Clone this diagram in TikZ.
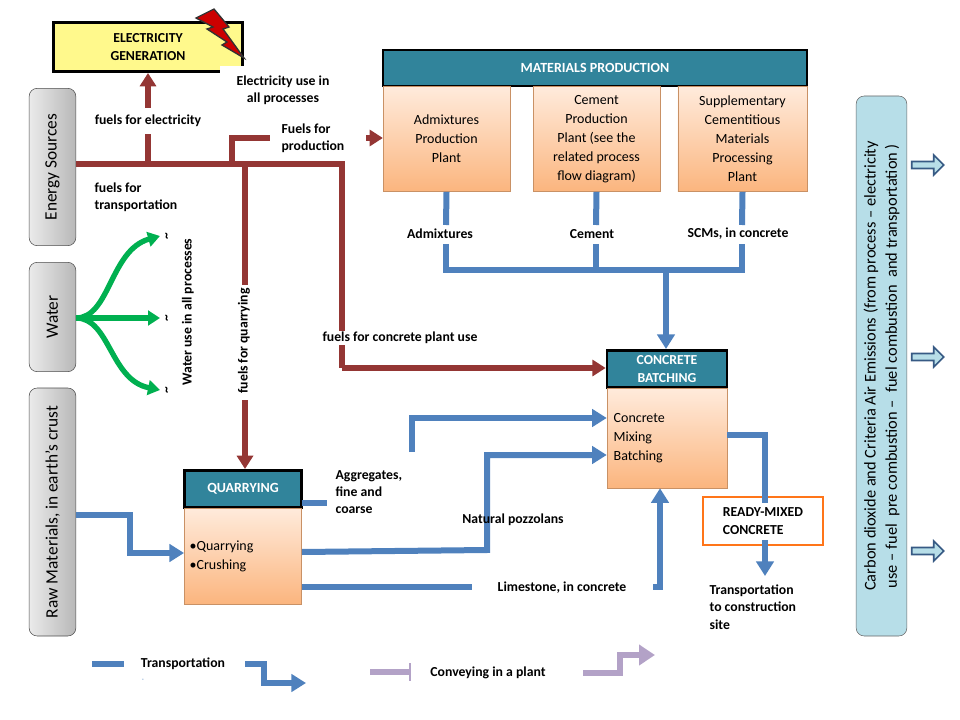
\documentclass[tikz,border=0pt]{standalone}
\usepackage{fontspec}
\setmainfont{Carlito}
\usetikzlibrary{arrows.meta,shapes.arrows}
\definecolor{brn}{HTML}{943634}
\definecolor{blu}{HTML}{4F81BD}
\definecolor{teal}{HTML}{31849B}
\definecolor{grn}{HTML}{00B050}
\definecolor{pur}{HTML}{B3A2C7}
\definecolor{lblu}{HTML}{B7DEE8}
\definecolor{orT}{HTML}{FFEBDC}
\definecolor{orB}{HTML}{FBB57E}
\begin{document}
\begin{tikzpicture}[x=0.75pt,y=-0.75pt,
 lbl/.style={font=\fontsize{10.3}{13}\selectfont\bfseries,align=center,inner sep=1pt},
 lbll/.style={lbl,align=left},
 bl/.style={blu,line width=4.5pt},
 br/.style={brn,line width=4.5pt},
 bla/.style={bl,-{Triangle[length=11pt,width=13pt]}},
 bra/.style={br,-{Triangle[length=10pt,width=12pt]}},
 hdr/.style={draw=black,line width=2pt,fill=teal,text=white,font=\fontsize{10.5}{12}\selectfont\bfseries,align=center},
 org/.style={draw=orB!80!black,top color=orT,bottom color=orB,font=\fontsize{10.5}{14.3}\selectfont,align=center},
 src/.style={draw=black!70,rounded corners=6pt,left color=black!8,right color=black!28},
 srct/.style={rotate=90,font=\fontsize{13}{15}\selectfont},
]
\useasboundingbox (0,0) rectangle (960,720);
% electricity
\node[draw=black,line width=2pt,fill=yellow!45,minimum width=142pt,minimum height=37pt,font=\fontsize{10.3}{13.5}\selectfont\bfseries,align=center] (eg) at (148,47) {ELECTRICITY\\GENERATION};
\fill[white] (220,66) rectangle (250,76);
\filldraw[fill=red!80!black,draw=black!80,line width=1pt] (196,18)--(214,9)--(229,27)--(223,29)--(244,58)--(222,45)--(227,42)--(207,29)--(213,27)--cycle;
\node[lbl] (eu) at (283,90) {Electricity use in\\all processes};
% sources
\node[src,minimum width=35pt,minimum height=118pt] (es) at (52.5,167) {};
\node[srct] at (es) {Energy Sources};
\node[src,minimum width=35pt,minimum height=82pt] (wa) at (52.5,317) {};
\node[srct] at (wa) {Water};
\node[src,minimum width=35pt,minimum height=186pt] (rm) at (52.5,512) {};
\node[srct] at (rm) {Raw Materials, in earth’s crust};
% materials production
\node[hdr,minimum width=318pt,minimum height=27pt] (mp) at (595,68) {MATERIALS PRODUCTION};
\node[org,minimum width=95pt,minimum height=79pt] (ad) at (446.5,139) {Admixtures\\Production\\Plant};
\node[org,minimum width=95pt,minimum height=79pt] (ce) at (596.5,139) {Cement\\Production\\Plant (see the\\related process\\flow diagram)};
\node[org,minimum width=97pt,minimum height=79pt] (sc) at (742.5,139) {Supplementary\\Cementitious\\Materials\\Processing\\Plant};
% concrete batching
\node[hdr,minimum width=90pt,minimum height=28pt,font=\fontsize{10.3}{13.5}\selectfont\bfseries] (cb) at (667,369) {CONCRETE\\BATCHING};
\node[org,minimum width=90pt,minimum height=75pt,align=left,text width=80pt] (cm) at (667,438) {Concrete\\Mixing\\Batching};
% quarrying
\node[hdr,minimum width=88pt,minimum height=28pt] (qh) at (243,489) {QUARRYING};
\node[org,minimum width=88pt,minimum height=72pt,align=left,text width=80pt] (qb) at (243,556) {•Quarrying\\•Crushing};
% ready mixed
\node[draw=orange!80!red!90,line width=1.2pt,fill=white,minimum width=90pt,minimum height=36pt,font=\fontsize{10.3}{13.5}\selectfont\bfseries,align=left] (rmc) at (763,521) {READY-MIXED\\CONCRETE};
% emissions
\node[draw=black!60,rounded corners=6pt,fill=lblu,minimum width=38pt,minimum height=405pt] (em) at (881.5,366) {};
\node[rotate=90,font=\fontsize{12.3}{16}\selectfont,align=center] at (em) {Carbon dioxide and Criteria Air Emissions (from process -- electricity\\use -- fuel\ \ pre combustion --\ \ fuel combustion\ \ and transportation )};
\foreach \yy/\nm in {165/e1,357/e2,551/e3}
  \node[single arrow,draw=blu!70!black,fill=lblu,line width=1.2pt,minimum height=24pt,minimum width=15pt,single arrow head extend=3pt,inner sep=1pt] (\nm) at (926,\yy) {};
% brown fuel lines
\coordinate (j1) at (148,164); \coordinate (j2) at (232,164);
\draw[br] (es.east|-j1) -- (342,164) -- (342,368);
\draw[bra] (342,368) -- (cb.west|-0,368);
\draw[br] (j1) -- (148,134);
\draw[bra] (148,108) -- (eg.south-|148,0);
\node[lbl] at (148,121) {fuels for electricity};
\draw[br] (232,164) -- (232,138) -- (270,138);
\node[lbll,anchor=west] (fp) at (280,138) {Fuels for\\production};
\draw[bra] (366,138) -- (ad.west|-0,138);
\draw[br] (245,164) -- (245,285);
\node[lbl,rotate=90,fill=white] at (244,341) {fuels for quarrying};
\draw[bra] (245,400) -- (qh.north-|245,0);
\node[lbll,anchor=west] at (93,197) {fuels for\\transportation};
\node[lbl,fill=white] at (400,338) {fuels for concrete plant use};
% water
\coordinate (w0) at (76,318);
\foreach \yy/\nm in {236/g1,318/g2,390/g3}{
  \coordinate (\nm) at (160,\yy);
  \node[font=\bfseries,rotate=90] at (168,\yy) {\textasciitilde};}
\draw[grn,line width=4pt,-{Triangle[length=9pt,width=11pt]}] (w0) .. controls (110,318) and (110,250) .. (g1);
\draw[grn,line width=4pt,-{Triangle[length=9pt,width=11pt]}] (w0) -- (g2);
\draw[grn,line width=4pt,-{Triangle[length=9pt,width=11pt]}] (w0) .. controls (110,318) and (110,380) .. (g3);
\node[lbl,rotate=90] at (188,312) {Water use in all processes};
% blue materials
\draw[bl] (ad.south) -- (446,225);
\draw[bl] (ce.south) -- (596,225);
\draw[bl] (sc.south) -- (742,225);
\node[lbl] at (440,234) {Admixtures};
\node[lbl] at (592,234) {Cement};
\node[lbl] at (738,234) {SCMs, in concrete};
\draw[bl] (446,244) -- (446,270) -- (742,270) -- (742,244);
\draw[bl] (596,244) -- (596,270);
\draw[bla] (666,270) -- (cb.north-|666,0);
% raw to quarry
\draw[bla] (rm.east|-0,515) -- (130,515) -- (130,553) -- (qb.west|-0,553);
% aggregates
\draw[bl] (qb.east|-0,503) -- (327,503);
\node[lbll,anchor=west] at (334,492) {Aggregates,\\fine and\\coarse};
\draw[bla] (412,452) -- (412,418) -- (cm.west|-0,418);
\draw[bla] (qb.east|-0,552) -- (487,550) -- (487,455) -- (cm.west|-0,455);
\node[lbl] at (513,520) {Natural pozzolans};
\draw[bl] (qb.east|-0,587) -- (472,587);
\node[lbl] at (562,588) {Limestone, in concrete};
\draw[bla] (653,587) -- (660,587) -- (cm.south-|660,0);
% output
\draw[bl] (cm.east|-0,435) -- (765,435) -- (765,503);
\draw[bla] (765,540) -- (765,576);
\node[lbll,anchor=west] at (708,607) {Transportation\\to construction\\site};
% legend
\coordinate (l1) at (92,664); \coordinate (l2) at (124,664);
\draw[bl] (l1) -- (l2);
\node[lbl] (lt) at (183,664) {Transportation};
\draw[bla] (245,664) -- (264,664) -- (264,683) -- (306,683);
\node[font=\tiny,text=blu] at (143,680) {-};
\coordinate (p1) at (370,672); \coordinate (p2) at (410,672);
\draw[pur,line width=4.5pt] (p1) -- (p2);
\draw[pur,line width=0.8pt] (410,663) -- (410,681);
\node[lbl] (lc) at (488,673) {Conveying in a plant};
\draw[pur,line width=4.5pt,-{Triangle[length=12pt,width=15pt]}] (583,673) -- (620,673) -- (620,655) -- (655,655);
\end{tikzpicture}
\end{document}
